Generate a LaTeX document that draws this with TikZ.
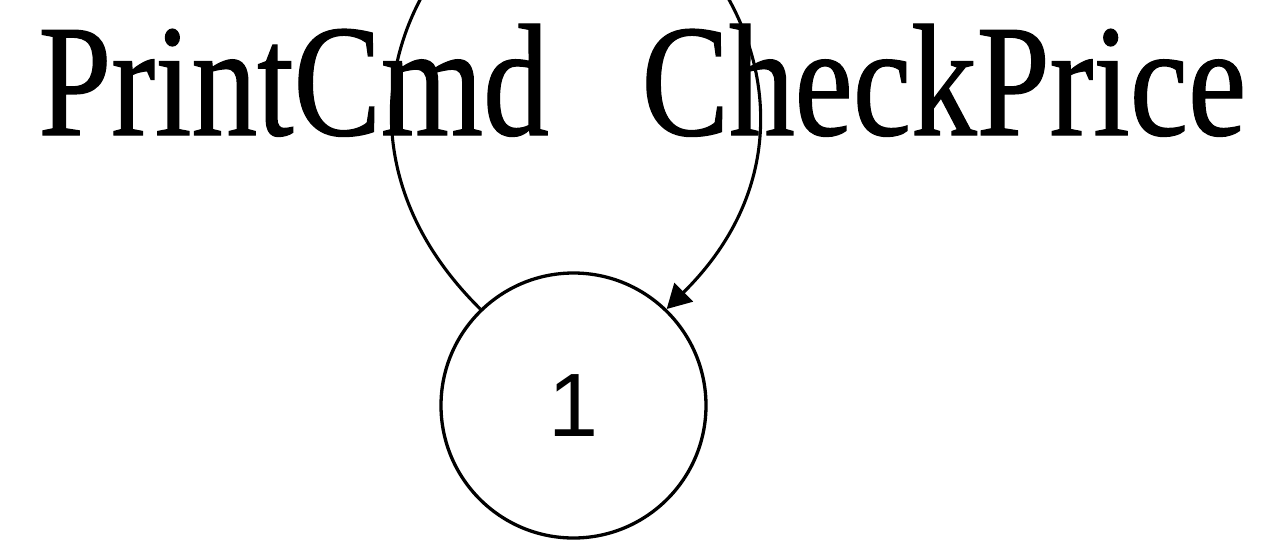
\documentclass[tikz,border=0pt]{standalone}
\usepackage{fontspec}
\usetikzlibrary{arrows.meta}
\newfontfamily\edgefont{Liberation Serif}[FakeStretch=0.82,FakeBold=0.8]
\newfontfamily\statefont{Liberation Sans}
\begin{document}
\begin{tikzpicture}[x=0.5pt,y=-0.5pt,
    statenode/.style={draw,circle,line width=1.65pt,minimum size=132.5pt,inner sep=0pt,font=\statefont\fontsize{45}{54}\selectfont},
    loopedge/.style={line width=1.55pt,-{Triangle[length=12pt,width=13pt]}}]
        \useasboundingbox (0,0) rectangle (1266,543);
        \clip (0,0) rectangle (1266,543);
        \node[statenode] (s1) at (573.5,405.5) {\raisebox{-3.5pt}{1}};
        \coordinate (looptop) at (573.5,-112);
        \draw[loopedge] (s1.134) .. controls (290,121) and (445,-112) .. (looptop)
            .. controls (702,-112) and (857,121) .. (s1.46);
        \node[anchor=base west,inner sep=0pt,font=\edgefont\fontsize{80}{96}\selectfont] (lbl) at (38,135) {PrintCmd\hspace{30pt} CheckPrice};
    \end{tikzpicture}
\end{document}
